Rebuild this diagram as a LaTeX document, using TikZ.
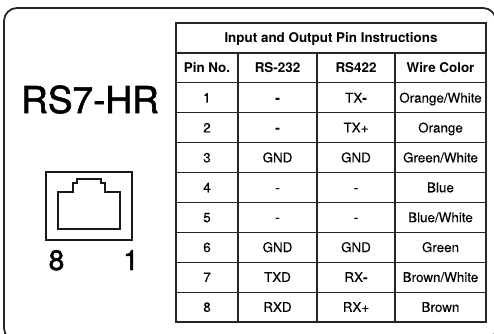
\documentclass[tikz,border=0pt]{standalone}
\usepackage{fontspec}
\setmainfont{TeX Gyre Heros}
\newfontfamily\medfont[FakeBold=1.6]{TeX Gyre Heros}
\newfontfamily\bodyfont[FakeBold=0.12]{TeX Gyre Heros}
\begin{document}
\begin{tikzpicture}[x=1pt,y=-1pt,
  grid/.style={draw=black!85, line width=1.2pt},
  frame/.style={draw=black!85, line width=1.8pt, rounded corners=13pt},
  jack/.style={draw=black!90, line width=1.8pt},
  cell/.style={anchor=base, inner sep=0pt, font=\fontsize{13.4}{14}\bodyfont},
  hcell/.style={anchor=base, inner sep=0pt, font=\fontsize{13.4}{14}\selectfont\bfseries},
  big/.style={anchor=base, inner sep=0pt, font=\fontsize{37}{40}\medfont},
  pinlab/.style={anchor=base, inner sep=0pt, font=\fontsize{28}{30}\medfont}]
\useasboundingbox (0,0) rectangle (494,333);
\begin{scope}
  \clip (0,0) rectangle (494,333);
  \draw[frame] (4,8) rectangle (496,341);
\end{scope}
% left side
\node[big] (model) at (90,113) {RS7-HR};
\draw[jack] (46,172) rectangle (132,240);
\draw[jack] (58,229) -- (58,192) -- (73,192) -- (73,183) -- (77,183) -- (77,179)
  -- (101,179) -- (101,183) -- (105,183) -- (105,192) -- (120,192) -- (120,229) -- cycle;
\node[pinlab] (p8) at (56.5,270) {8};
\node[pinlab] (p1) at (131,270) {1};
% table grid
\draw[grid] (176,23) rectangle (486,322);
\foreach \k in {1,...,9} {
  \draw[grid] (176,{23+29.9*\k}) -- (486,{23+29.9*\k});
}
\foreach \x in {238,317,395} {
  \draw[grid] (\x,52.9) -- (\x,322);
}
% title and headers
\node[hcell] (title) at (331,{37.95+4.8}) {Input and Output Pin Instructions};
\node[hcell] (h1) at (207,{67.85+4.8}) {Pin No.};
\node[hcell] (h2) at (277.5,{67.85+4.8}) {RS-232};
\node[hcell] (h3) at (356,{67.85+4.8}) {RS422};
\node[hcell] (h4) at (440.5,{67.85+4.8}) {Wire Color};
% body
\foreach \a/\b/\c/\d [count=\i] in {
  1/{\textbf{-}}/{TX\textbf{-}}/Orange\slash White,
  2/{\textbf{-}}/TX+/Orange,
  3/GND/GND/Green\slash White,
  4/-/-/Blue,
  5/-/-/Blue\slash White,
  6/GND/GND/Green,
  7/TXD/{RX\textbf{-}}/Brown\slash White,
  8/RXD/RX+/Brown} {
  \node[cell] (r\i a) at (207,{82.8+29.9*(\i-0.5)+4.8}) {\a};
  \node[cell] (r\i b) at (277.5,{82.8+29.9*(\i-0.5)+4.8}) {\b};
  \node[cell] (r\i c) at (356,{82.8+29.9*(\i-0.5)+4.8}) {\c};
  \node[cell] (r\i d) at (440.5,{82.8+29.9*(\i-0.5)+4.8}) {\d};
}
\end{tikzpicture}
\end{document}
